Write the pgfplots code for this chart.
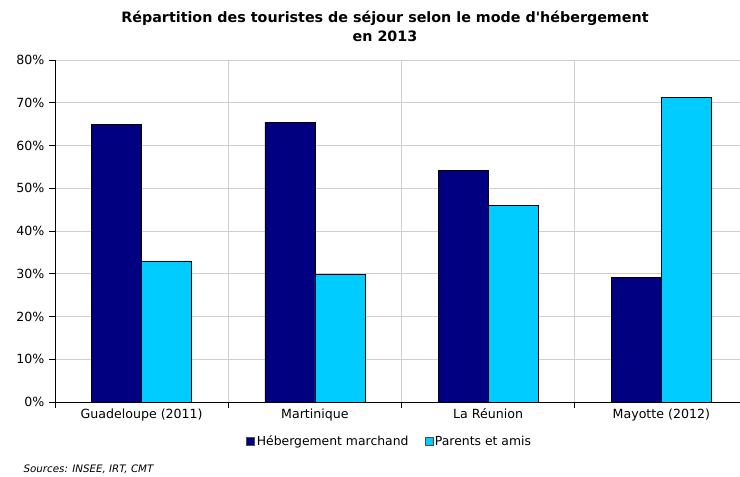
\documentclass[border=0pt]{standalone}
\usepackage{pgfplots}
\pgfplotsset{compat=1.18}
\usepackage{fontspec}
\setmainfont{DejaVu Sans}
\definecolor{navy}{HTML}{000080}
\definecolor{cyanb}{HTML}{00CCFF}
\definecolor{gridc}{HTML}{CFCFCF}
\begin{document}
\begin{tikzpicture}[x=1pt,y=1pt]
\path[use as bounding box] (0,0) rectangle (740,477);
\begin{axis}[
  at={(55pt,75pt)}, anchor=origin,
  scale only axis, width=693pt, height=342pt,
  xmin=0, xmax=4, ymin=0, ymax=80,
  axis x line*=bottom, axis y line*=left,
  axis line style={black, line width=0.8pt},
  xtick={0,1,2,3,4}, xticklabels={},
  extra x ticks={0.5,1.5,2.5,3.5},
  extra x tick labels={Guadeloupe (2011),Martinique,La Réunion,Mayotte (2012)},
  extra x tick style={grid=none, major tick length=0pt},
  ytick={0,10,...,80},
  yticklabel={\pgfmathprintnumber{\tick}\%},
  /pgf/number format/assume math mode=true,
  tick align=outside, major tick length=6pt,
  tick style={black, line width=0.6pt},
  xmajorgrids, ymajorgrids,
  grid style={gridc, line width=0.8pt},
  ticklabel style={font=\fontsize{12.6}{14}\selectfont},
  xticklabel style={text height=10pt, text depth=3pt, yshift=-3pt},
  yticklabel style={xshift=-1pt},
  ybar, bar width=50pt, ybar=0pt,
  legend columns=2,
  legend style={at={(0.483,-0.116)}, anchor=center, draw=none, fill=none,
    font=\fontsize{12.4}{14}\selectfont, /tikz/every even column/.append style={column sep=14pt}},
  legend image code/.code={\draw[#1, draw=black!70, line width=0.4pt] (0pt,-4pt) rectangle (8pt,4pt);},
  clip=false,
]
\addplot[fill=navy, draw=black, line width=0.5pt] coordinates {(0.5,65) (1.5,65.4) (2.5,54.2) (3.5,29.2)};
\addplot[fill=cyanb, draw=black, line width=0.5pt] coordinates {(0.5,33) (1.5,29.9) (2.5,46) (3.5,71.2)};
\legend{Hébergement marchand, Parents et amis}
\end{axis}
\node[font=\bfseries\fontsize{14.3}{19}\selectfont, align=center] at (385,451) {Répartition des touristes de séjour selon le mode d\textquotesingle hébergement\\en 2013};
\node[anchor=west, font=\itshape\fontsize{10.3}{12}\selectfont] at (20,8) {Sources: INSEE, IRT, CMT};
\end{tikzpicture}
\end{document}
